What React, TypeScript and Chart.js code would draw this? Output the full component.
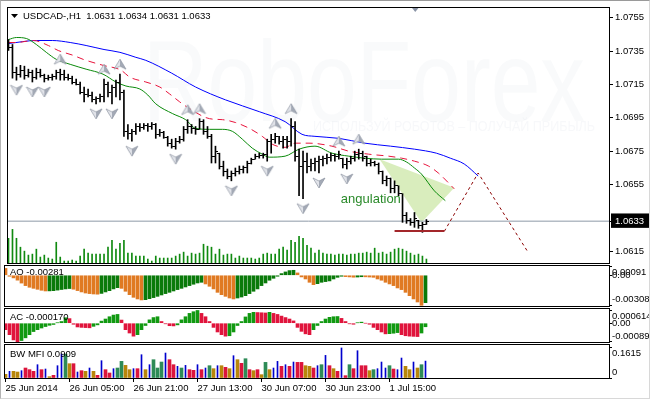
import React, { useEffect, useRef } from 'react';
import { Chart, registerables } from 'chart.js';

Chart.register(...registerables);

const FONT = "'Liberation Sans', Arial, sans-serif";
Chart.defaults.font.family = FONT;

// ---------------- data ----------------
const chartTitle = 'USDCAD-,H1  1.0631 1.0634 1.0631 1.0633';
const watermark = 'RoboForex';
const watermarkSub = 'ИСПОЛЬЗУЙ РОБОТОВ – ПОЛУЧАЙ ПРИБЫЛЬ';

const timeTickIdx = [0, 16, 32, 48, 64, 80, 96];
const timeLabels = ['25 Jun 2014', '26 Jun 05:00', '26 Jun 21:00', '27 Jun 13:00', '30 Jun 07:00', '30 Jun 23:00', '1 Jul 15:00'];

const priceTicks = [1.0615, 1.0655, 1.0675, 1.0695, 1.0715, 1.0735, 1.0755];
const currentPrice = 1.0633;

const opens = [
  1.07402, 1.07372, 1.07224, 1.07212, 1.07236, 1.07206, 1.07224, 1.07194, 1.07224, 1.07206,
  1.07188, 1.07194, 1.07200, 1.07224, 1.07212, 1.07194, 1.07188, 1.07165, 1.07153, 1.07105,
  1.07093, 1.07087, 1.07058, 1.07064, 1.07076, 1.07153, 1.07105, 1.07135, 1.07165, 1.07105,
  1.06869, 1.06857, 1.06869, 1.06898, 1.06893, 1.06904, 1.06898, 1.06910, 1.06851, 1.06863,
  1.06833, 1.06798, 1.06780, 1.06810, 1.06822, 1.06881, 1.06898, 1.06887, 1.06881, 1.06927,
  1.06869, 1.06839, 1.06720, 1.06738, 1.06661, 1.06631, 1.06601, 1.06619, 1.06631, 1.06643,
  1.06655, 1.06679, 1.06702, 1.06720, 1.06726, 1.06732, 1.06810, 1.06822, 1.06839, 1.06810,
  1.06822, 1.06810, 1.06898, 1.06720, 1.06661, 1.06690, 1.06661, 1.06679, 1.06690, 1.06702,
  1.06708, 1.06714, 1.06726, 1.06720, 1.06708, 1.06673, 1.06690, 1.06708, 1.06732, 1.06738,
  1.06720, 1.06679, 1.06685, 1.06673, 1.06631, 1.06572, 1.06584, 1.06524, 1.06542, 1.06495,
  1.06364, 1.06335, 1.06323, 1.06335, 1.06305, 1.06311,
];
const highs = [
  1.07420, 1.07390, 1.07254, 1.07265, 1.07260, 1.07242, 1.07236, 1.07248, 1.07242, 1.07212,
  1.07206, 1.07212, 1.07236, 1.07242, 1.07236, 1.07212, 1.07200, 1.07182, 1.07165, 1.07135,
  1.07123, 1.07105, 1.07076, 1.07093, 1.07182, 1.07165, 1.07147, 1.07176, 1.07212, 1.07117,
  1.06910, 1.06881, 1.06916, 1.06916, 1.06916, 1.06916, 1.06922, 1.06916, 1.06881, 1.06869,
  1.06839, 1.06822, 1.06827, 1.06839, 1.06898, 1.06939, 1.06910, 1.06898, 1.06945, 1.06939,
  1.06898, 1.06851, 1.06780, 1.06738, 1.06690, 1.06643, 1.06631, 1.06649, 1.06661, 1.06661,
  1.06690, 1.06708, 1.06732, 1.06738, 1.06738, 1.06822, 1.06851, 1.06857, 1.06839, 1.06839,
  1.06839, 1.06945, 1.06927, 1.06762, 1.06750, 1.06738, 1.06702, 1.06708, 1.06720, 1.06720,
  1.06732, 1.06738, 1.06732, 1.06750, 1.06708, 1.06708, 1.06720, 1.06750, 1.06762, 1.06750,
  1.06720, 1.06702, 1.06690, 1.06679, 1.06631, 1.06601, 1.06589, 1.06572, 1.06542, 1.06495,
  1.06382, 1.06346, 1.06382, 1.06335, 1.06323, 1.06340,
];
const lows = [
  1.07354, 1.07188, 1.07176, 1.07194, 1.07182, 1.07194, 1.07165, 1.07182, 1.07194, 1.07165,
  1.07176, 1.07176, 1.07182, 1.07176, 1.07176, 1.07176, 1.07153, 1.07147, 1.07093, 1.07046,
  1.07076, 1.07046, 1.07034, 1.07046, 1.07046, 1.07076, 1.07034, 1.07076, 1.07058, 1.06839,
  1.06822, 1.06810, 1.06851, 1.06869, 1.06881, 1.06869, 1.06881, 1.06827, 1.06839, 1.06827,
  1.06780, 1.06768, 1.06762, 1.06798, 1.06810, 1.06857, 1.06857, 1.06851, 1.06881, 1.06851,
  1.06827, 1.06679, 1.06679, 1.06643, 1.06601, 1.06584, 1.06572, 1.06601, 1.06613, 1.06619,
  1.06619, 1.06673, 1.06702, 1.06708, 1.06708, 1.06690, 1.06738, 1.06798, 1.06792, 1.06768,
  1.06768, 1.06780, 1.06690, 1.06483, 1.06465, 1.06619, 1.06631, 1.06631, 1.06619, 1.06661,
  1.06673, 1.06690, 1.06690, 1.06702, 1.06649, 1.06643, 1.06673, 1.06690, 1.06702, 1.06690,
  1.06661, 1.06661, 1.06661, 1.06613, 1.06554, 1.06542, 1.06500, 1.06500, 1.06483, 1.06323,
  1.06317, 1.06305, 1.06293, 1.06287, 1.06263, 1.06310,
];
const closes = [
  1.07372, 1.07224, 1.07212, 1.07236, 1.07206, 1.07224, 1.07194, 1.07224, 1.07206, 1.07188,
  1.07194, 1.07200, 1.07224, 1.07212, 1.07194, 1.07188, 1.07165, 1.07153, 1.07105, 1.07093,
  1.07087, 1.07058, 1.07064, 1.07076, 1.07153, 1.07105, 1.07135, 1.07165, 1.07105, 1.06869,
  1.06857, 1.06869, 1.06898, 1.06893, 1.06904, 1.06898, 1.06910, 1.06851, 1.06863, 1.06833,
  1.06798, 1.06780, 1.06810, 1.06822, 1.06881, 1.06898, 1.06887, 1.06881, 1.06927, 1.06869,
  1.06839, 1.06720, 1.06750, 1.06661, 1.06631, 1.06601, 1.06619, 1.06631, 1.06643, 1.06655,
  1.06679, 1.06702, 1.06720, 1.06726, 1.06732, 1.06810, 1.06822, 1.06839, 1.06810, 1.06822,
  1.06810, 1.06898, 1.06720, 1.06661, 1.06690, 1.06661, 1.06679, 1.06690, 1.06702, 1.06708,
  1.06714, 1.06726, 1.06720, 1.06732, 1.06673, 1.06690, 1.06708, 1.06732, 1.06738, 1.06708,
  1.06679, 1.06685, 1.06673, 1.06631, 1.06572, 1.06584, 1.06524, 1.06542, 1.06495, 1.06364,
  1.06335, 1.06323, 1.06346, 1.06305, 1.06311, 1.06330,
];
const volumes = [
  1000, 1360, 1000, 640, 480, 320, 360, 560, 240, 320,
  200, 160, 840, 240, 80, 80, 120, 80, 280, 560,
  400, 360, 360, 360, 360, 640, 920, 560, 800, 920,
  400, 400, 280, 280, 280, 160, 80, 280, 200, 200,
  200, 200, 280, 360, 440, 280, 400, 360, 400, 760,
  680, 640, 360, 560, 320, 360, 360, 200, 280, 200,
  200, 200, 160, 200, 360, 400, 360, 360, 560, 640,
  520, 920, 840, 1080, 1000, 720, 600, 400, 520, 400,
  360, 360, 320, 360, 360, 320, 360, 360, 400, 400,
  440, 400, 600, 400, 440, 360, 440, 560, 600, 560,
  480, 400, 320, 360, 280, 160,
];

// Alligator lines [bar index, price]
const jawPts = [
  [0, 1.07396], [7, 1.07414], [11, 1.07414], [15.5, 1.07402], [19.5, 1.07384], [24, 1.0736], [28, 1.07343],
  [32, 1.07313], [34.5, 1.07295], [41, 1.07218], [47, 1.07135], [54.5, 1.07058], [63, 1.06987], [69.5, 1.06927],
  [73.75, 1.06851], [77, 1.06839], [83, 1.06827], [89.5, 1.06798], [96, 1.0678], [102, 1.06762], [107.5, 1.06738],
  [111, 1.06708], [114.5, 1.06673], [118, 1.06601],
];
const teethPts = [
  [0, 1.07402], [2, 1.07402], [6.25, 1.07414], [10, 1.07384], [12.5, 1.07354], [16.25, 1.07325], [18.75, 1.07301],
  [23.75, 1.07265], [28.25, 1.07236], [30.5, 1.07194], [34.5, 1.07165], [38, 1.07135], [40.5, 1.07093], [43, 1.07046],
  [45.5, 1.07005], [50.5, 1.06945], [53.75, 1.06939], [57, 1.06922], [60.5, 1.06887], [63.75, 1.06839], [66.25, 1.06792],
  [69.5, 1.06773], [72, 1.06798], [75.5, 1.06798], [81.25, 1.0678], [85.5, 1.0675], [90.5, 1.06732], [95.5, 1.0672],
  [98.75, 1.06708], [102, 1.0669], [105.5, 1.06661], [108, 1.06619], [112, 1.06524],
];
const lipsPts = [
  [0, 1.0742], [2, 1.07432], [4.5, 1.07426], [7, 1.0739], [9.5, 1.07343], [12, 1.07301], [15.5, 1.07271],
  [19.5, 1.07242], [23.75, 1.07212], [27, 1.07165], [29.5, 1.07141], [33, 1.07123], [35, 1.07087], [37, 1.07034],
  [41.25, 1.06975], [44.5, 1.06939], [47, 1.06887], [50.5, 1.06881], [53.75, 1.06881], [56.25, 1.06869],
  [58.75, 1.06822], [61.25, 1.06768], [63.75, 1.06732], [65.5, 1.06714], [69.5, 1.0672], [73, 1.06762], [77, 1.0678],
  [81.25, 1.06738], [85.5, 1.0672], [89.5, 1.06708], [93.75, 1.06702], [98, 1.06702], [100, 1.06685], [102, 1.06649],
  [103.75, 1.06613], [107, 1.06512], [109.75, 1.06453],
];

const fractalUp = [13, 24, 28, 45, 48, 67, 71, 83, 88];
const fractalDown = [2, 6, 9, 22, 26, 31, 42, 56, 65, 74, 78, 85];

const angleShape = [[93.25, 1.06702], [112, 1.0653], [103.75, 1.06322], [93.25, 1.06702]];
const projectionPts = [[109.5, 1.06269], [118, 1.06619], [130.5, 1.06145]];
const supportPts = [[97, 1.06271], [109.5, 1.06271]];
const angleLabel = 'angulation';
const angleLabelPos = [83.5, 1.06459];
const shiftMarkIdx = 102.2;

const ao = [
  0.0007, -0.0001, -0.00027, -0.0005, -0.0008, -0.00106, -0.00123, -0.00134, -0.00144, -0.00154,
  -0.00161, -0.0016, -0.00158, -0.00152, -0.00146, -0.0014, -0.00136, -0.00143, -0.00157, -0.00171,
  -0.00182, -0.00188, -0.00192, -0.00194, -0.00186, -0.00171, -0.00158, -0.0014, -0.00127, -0.00134,
  -0.00164, -0.00199, -0.00226, -0.00243, -0.00253, -0.0025, -0.0024, -0.00229, -0.00216, -0.00202,
  -0.00188, -0.00175, -0.00161, -0.00147, -0.00134, -0.0012, -0.00106, -0.00092, -0.00079, -0.00072,
  -0.00089, -0.00113, -0.0014, -0.00175, -0.00199, -0.00216, -0.00233, -0.00243, -0.00233, -0.00223,
  -0.00209, -0.00188, -0.00164, -0.0014, -0.00106, -0.00079, -0.00051, -0.00031, -0.0001, 0.00017,
  0.00034, 0.00048, 0.00051, 0.00024, -0.00017, -0.00038, -0.00072, -0.00096, -0.00086, -0.00072,
  -0.00065, -0.00058, -0.00038, -0.00021, -0.0001, -0.00014, -0.00017, -0.0002, -0.00018, -0.00015,
  -0.00016, -0.00018, -0.00021, -0.00038, -0.00051, -0.00072, -0.00089, -0.00106, -0.0013, -0.00147,
  -0.00175, -0.00209, -0.00243, -0.00274, -0.00308, -0.00281,
];
const aoTickVals = [0.00091, 0, -0.00308];
const aoTickText = ['0.00091', '0.00', '-0.00308'];
const aoTitle = 'AO -0.00281';

const ac = [
  -0.00031, -0.00055, -0.0008, -0.00089, -0.00083, -0.0007, -0.00055, -0.0004, -0.00031, -0.00023,
  -0.00016, -0.0001, -0.00006, 0.00002, 0.00008, 0.00026, 0.00022, -0.00005, -0.00018, -0.0002,
  -0.00021, -0.00022, -0.00015, -0.00008, 0.0001, 0.0002, 0.00031, 0.00039, 0.00042, 0.00015,
  -0.00031, -0.00047, -0.00062, -0.00055, -0.00031, -0.00011, 0.00016, 0.00027, 0.00031, 0.00008,
  -0.00003, -0.00012, -0.00013, -0.00008, 0.00016, 0.00031, 0.00047, 0.00055, 0.00061, 0.00047,
  0.00031, 0.00008, -0.0002, -0.00042, -0.00055, -0.00062, -0.0006, -0.00042, -0.00011, 0.00008,
  0.0003, 0.00047, 0.00052, 0.00051, 0.0005, 0.00049, 0.00052, 0.00047, 0.00042, 0.00034,
  0.00027, 0.0002, 0.00011, -0.0002, -0.00039, -0.00051, -0.00055, -0.00031, -0.00011, 0.00008,
  0.0002, 0.00028, 0.00031, 0.00032, 0.00023, 0.00008, -0.00003, -0.00005, 0.00002, 0.00005,
  0.0, -0.00005, -0.0002, -0.00031, -0.00042, -0.00051, -0.0005, -0.00048, -0.00045, -0.00055,
  -0.0006, -0.00062, -0.00063, -0.00064, -0.00047, -0.00017,
];
const acTickVals = [0.000614, 0, -0.00089];
const acTickText = ['0.000614', '0.00', '-0.00089'];
const acTitle = 'AC -0.000170';

const mfi = [
  0.0197, 0.0358, 0.0358, 0.0322, 0.0394, 0.0537, 0.0448, 0.0358, 0.0716, 0.0448,
  0.0483, 0.0072, 0.0143, 0.0662, 0.1289, 0.1289, 0.077, 0.077, 0.0322, 0.0394,
  0.0358, 0.0537, 0.0358, 0.0143, 0.0931, 0.0448, 0.0269, 0.0501, 0.0537, 0.0895,
  0.068, 0.0448, 0.0501, 0.0501, 0.1253, 0.0448, 0.0716, 0.0985, 0.0537, 0.0859,
  0.1343, 0.0985, 0.0716, 0.0627, 0.0537, 0.068, 0.0448, 0.0412, 0.0716, 0.0448,
  0.0537, 0.0662, 0.0501, 0.0662, 0.0662, 0.0573, 0.0501, 0.12, 0.0985, 0.0788,
  0.1038, 0.0448, 0.0394, 0.0448, 0.0179, 0.0841, 0.0448, 0.0537, 0.0895, 0.0627,
  0.0716, 0.0627, 0.0859, 0.0841, 0.0841, 0.0662, 0.0627, 0.0537, 0.0662, 0.0716,
  0.1217, 0.0662, 0.0501, 0.0358, 0.1615, 0.0125, 0.0716, 0.0501, 0.1468, 0.0662,
  0.0662, 0.0394, 0.0448, 0.0501, 0.0859, 0.0537, 0.0662, 0.0483, 0.0448, 0.1074,
  0.0627, 0.0448, 0.0859, 0.0537, 0.0716, 0.0909,
];
// G = green, F = fade, K = fake, S = squat
const mfiZones = ('FKFFKSSSKS' + 'KFSKKGFSKS' + 'FKFSKSSKGG' + 'FFKSKFKGGG' + 'KSSKGKSSKS' +
  'KGFKFSFKFS' + 'GSFSFGFKKS' + 'KSKSSFFSKG' + 'KSFSKSGSKS' + 'SFGKKKGSKK' + 'FFKFGK').split('');
const mfiTickVals = [0.1615, 0];
const mfiTickText = ['0.1615', '0'];
const mfiTitle = 'BW MFI 0.0909';

// ---------------- layout constants ----------------
const W = 650;
const H = 399;
const X_MIN = -0.125;
const X_MAX = 150.875;
const AXIS_W = 41;
const FS = 9.5;

const ZONE_COLORS: Record<string, string> = { G: '#2e8b57', F: '#b8860b', K: '#0000cd', S: '#dc143c' };

const pts = (arr: number[][]) => arr.map(([x, y]) => ({ x, y }));

function xAxis(show: boolean) {
  return {
    type: 'linear',
    min: X_MIN,
    max: X_MAX,
    display: show,
    offset: false,
    afterBuildTicks: (s: any) => {
      s.ticks = timeTickIdx.map((v) => ({ value: v }));
    },
    afterFit: (s: any) => {
      s.height = show ? 21 : 0;
      s.paddingLeft = 0;
      s.paddingRight = 0;
    },
    ticks: {
      autoSkip: false,
      maxRotation: 0,
      minRotation: 0,
      align: 'start',
      padding: 1,
      color: '#000',
      font: { family: FONT, size: FS },
      callback: (v: number) => {
        const k = timeTickIdx.indexOf(v);
        return k >= 0 ? timeLabels[k] : '';
      },
    },
    grid: { display: show, drawOnChartArea: false, drawTicks: true, tickLength: 4, color: '#000', offset: false },
    border: { display: false },
  };
}

function subY(min: number, max: number, vals: number[], texts: string[]) {
  return {
    type: 'linear',
    position: 'right',
    min,
    max,
    afterBuildTicks: (s: any) => {
      s.ticks = vals.map((v) => ({ value: v }));
    },
    afterFit: (s: any) => {
      s.width = AXIS_W;
      s.paddingTop = 0;
      s.paddingBottom = 0;
    },
    ticks: {
      autoSkip: false,
      padding: 0,
      color: '#000',
      font: { family: FONT, size: FS },
      callback: (_v: number, i: number) =>
        i === 0 ? ['', texts[0]] : i === vals.length - 1 ? [texts[i], ''] : texts[i],
    },
    grid: { drawOnChartArea: false, drawTicks: true, tickLength: 3, color: '#000' },
    border: { display: false },
  };
}

const framePlugin = {
  id: 'frame',
  afterDraw(chart: any) {
    const { ctx, chartArea: a } = chart;
    ctx.save();
    ctx.strokeStyle = '#000';
    ctx.lineWidth = 1;
    ctx.strokeRect(a.left - 0.5, a.top - 0.5, a.right - a.left + 1, a.bottom - a.top + 1);
    ctx.restore();
  },
};

function panelLabel(text: string, dy: number) {
  return {
    id: 'panelLabel',
    afterDatasetsDraw(chart: any) {
      const { ctx, chartArea: a } = chart;
      ctx.save();
      ctx.font = `${FS}px ${FONT}`;
      ctx.fillStyle = '#000';
      ctx.textBaseline = 'middle';
      ctx.fillText(text, a.left + 5, a.top + dy);
      ctx.restore();
    },
  };
}

function baseOptions(padding: any) {
  return {
    responsive: false,
    animation: false,
    devicePixelRatio: 1,
    events: [],
    layout: { padding },
    plugins: { legend: { display: false }, tooltip: { enabled: false } },
  };
}

function tickImage(left: boolean) {
  const c = document.createElement('canvas');
  c.width = 5;
  c.height = 1;
  const g = c.getContext('2d')!;
  g.fillStyle = '#000';
  g.fillRect(left ? 0 : 3, 0, 2, 1);
  return c;
}

function arrowImage(up: boolean) {
  const c = document.createElement('canvas');
  c.width = 14;
  c.height = 40;
  const g = c.getContext('2d')!;
  const cy = up ? 10 : 30;
  const s = up ? 1 : -1;
  g.beginPath();
  g.moveTo(7, cy - 5 * s);
  g.lineTo(13, cy + 5 * s);
  g.lineTo(7, cy + 2 * s);
  g.lineTo(1, cy + 5 * s);
  g.closePath();
  g.fillStyle = '#e2e4ea';
  g.fill();
  g.beginPath();
  g.moveTo(7, cy - 5 * s);
  g.lineTo(13, cy + 5 * s);
  g.lineTo(7, cy + 2 * s);
  g.closePath();
  g.fillStyle = '#a4aab6';
  g.fill();
  g.beginPath();
  g.moveTo(7, cy - 5 * s);
  g.lineTo(13, cy + 5 * s);
  g.lineTo(7, cy + 2 * s);
  g.lineTo(1, cy + 5 * s);
  g.closePath();
  g.strokeStyle = '#8d93a0';
  g.lineWidth = 0.7;
  g.stroke();
  return c;
}

export default function App() {
  const mainRef = useRef<HTMLCanvasElement>(null);
  const aoRef = useRef<HTMLCanvasElement>(null);
  const acRef = useRef<HTMLCanvasElement>(null);
  const mfiRef = useRef<HTMLCanvasElement>(null);

  useEffect(() => {
    const charts: any[] = [];
    const openImg = tickImage(true);
    const closeImg = tickImage(false);
    const upImg = arrowImage(true);
    const downImg = arrowImage(false);

    const isCur = (c: any) => c && c.tick && c.tick.value === currentPrice;

    const mainDecor = {
      id: 'mainDecor',
      beforeDatasetsDraw(chart: any) {
        const { ctx, chartArea: a } = chart;
        ctx.save();
        ctx.fillStyle = 'rgba(190,198,214,0.09)';
        ctx.font = `115px ${FONT}`;
        ctx.textBaseline = 'alphabetic';
        const w = ctx.measureText(watermark).width;
        ctx.translate(a.left + 135, a.top + 113);
        ctx.scale(442 / w, 1);
        ctx.fillText(watermark, 0, 0);
        ctx.restore();
        ctx.save();
        ctx.fillStyle = 'rgba(190,198,214,0.13)';
        ctx.font = `14px ${FONT}`;
        const w2 = ctx.measureText(watermarkSub).width;
        ctx.translate(a.left + 305, a.top + 123);
        ctx.scale(282 / w2, 1);
        ctx.fillText(watermarkSub, 0, 0);
        ctx.restore();
      },
      afterDatasetsDraw(chart: any) {
        const { ctx, chartArea: a, scales } = chart;
        ctx.save();
        ctx.font = `13px ${FONT}`;
        ctx.fillStyle = '#2a8a2a';
        ctx.textBaseline = 'middle';
        ctx.fillText(angleLabel, scales.x.getPixelForValue(angleLabelPos[0]), scales.y.getPixelForValue(angleLabelPos[1]));
        ctx.fillStyle = '#000';
        ctx.font = `${FS}px ${FONT}`;
        ctx.fillText(chartTitle, a.left + 15, a.top + 8);
        ctx.beginPath();
        ctx.moveTo(a.left + 3, a.top + 6);
        ctx.lineTo(a.left + 10, a.top + 6);
        ctx.lineTo(a.left + 6.5, a.top + 10);
        ctx.closePath();
        ctx.fill();
        const px = scales.x.getPixelForValue(shiftMarkIdx);
        ctx.fillStyle = '#8a94a6';
        ctx.beginPath();
        ctx.moveTo(px - 4, a.top - 1);
        ctx.lineTo(px + 4, a.top - 1);
        ctx.lineTo(px, a.top + 4);
        ctx.closePath();
        ctx.fill();
        ctx.restore();
      },
    };

    if (mainRef.current) {
      charts.push(
        new Chart(mainRef.current, {
          type: 'bar',
          data: {
            datasets: [
              {
                type: 'line',
                data: pts(angleShape),
                fill: 'shape',
                backgroundColor: 'rgba(208,233,172,0.8)',
                borderWidth: 0,
                pointRadius: 0,
                order: 20,
              },
              {
                type: 'bar',
                yAxisID: 'yv',
                data: volumes.map((v, i) => ({ x: i, y: v })),
                backgroundColor: '#108a10',
                barThickness: 1,
                grouped: false,
                order: 19,
              },
              {
                type: 'line',
                data: [{ x: X_MIN, y: currentPrice }, { x: X_MAX, y: currentPrice }],
                borderColor: '#8e99a8',
                borderWidth: 1,
                pointRadius: 0,
                order: 18,
              },
              {
                type: 'line',
                data: pts(jawPts),
                borderColor: '#0000ff',
                borderWidth: 1,
                pointRadius: 0,
                cubicInterpolationMode: 'monotone',
                order: 15,
              },
              {
                type: 'line',
                data: pts(teethPts),
                borderColor: '#e8143c',
                borderWidth: 1,
                borderDash: [7, 5],
                pointRadius: 0,
                cubicInterpolationMode: 'monotone',
                order: 14,
              },
              {
                type: 'line',
                data: pts(lipsPts),
                borderColor: '#0a8a0a',
                borderWidth: 1,
                pointRadius: 0,
                cubicInterpolationMode: 'monotone',
                order: 13,
              },
              {
                type: 'bar',
                data: highs.map((h, i) => ({ x: i, y: [lows[i], h] })),
                backgroundColor: '#000',
                barThickness: 1,
                grouped: false,
                order: 6,
              },
              {
                type: 'line',
                showLine: false,
                data: opens.map((o, i) => ({ x: i, y: o })),
                pointStyle: openImg,
                pointRadius: 3,
                order: 5,
              },
              {
                type: 'line',
                showLine: false,
                data: closes.map((c, i) => ({ x: i, y: c })),
                pointStyle: closeImg,
                pointRadius: 3,
                order: 5,
              },
              {
                type: 'line',
                showLine: false,
                data: fractalUp.map((i) => ({ x: i, y: highs[i] })),
                pointStyle: upImg,
                pointRadius: 7,
                order: 3,
                clip: false,
              },
              {
                type: 'line',
                showLine: false,
                data: fractalDown.map((i) => ({ x: i, y: lows[i] })),
                pointStyle: downImg,
                pointRadius: 7,
                order: 3,
              },
              {
                type: 'line',
                data: pts(projectionPts),
                borderColor: '#8b0000',
                borderWidth: 1,
                borderDash: [3, 3],
                pointRadius: 0,
                order: 2,
              },
              {
                type: 'line',
                data: pts(supportPts),
                borderColor: '#a3262a',
                borderWidth: 2,
                pointRadius: 0,
                order: 1,
              },
            ],
          },
          options: {
            ...baseOptions({ left: 5, top: 5, right: 0, bottom: H - 263 }),
            scales: {
              x: xAxis(false),
              y: {
                type: 'linear',
                position: 'right',
                min: 1.06079,
                max: 1.07609,
                afterBuildTicks: (s: any) => {
                  s.ticks = priceTicks.concat([currentPrice]).map((v) => ({ value: v }));
                },
                afterFit: (s: any) => {
                  s.width = AXIS_W;
                  s.paddingTop = 0;
                  s.paddingBottom = 0;
                },
                ticks: {
                  autoSkip: false,
                  padding: 2,
                  font: { family: FONT, size: FS },
                  color: (c: any) => (isCur(c) ? '#fff' : '#000'),
                  showLabelBackdrop: (c: any) => isCur(c),
                  backdropColor: '#000',
                  backdropPadding: { top: 2, bottom: 1, left: 4, right: 6 },
                  callback: (v: number) => Number(v).toFixed(4),
                },
                grid: { drawOnChartArea: false, drawTicks: true, tickLength: 4, color: '#000' },
                border: { display: false },
              },
              yv: { type: 'linear', display: false, min: 0, max: 10320 },
            },
          } as any,
          plugins: [mainDecor, framePlugin],
        } as any)
      );
    }

    if (aoRef.current) {
      charts.push(
        new Chart(aoRef.current, {
          type: 'bar',
          data: {
            datasets: [
              {
                data: ao.map((v, i) => ({ x: i, y: v })),
                backgroundColor: ao.map((v, i) => (i > 0 && v >= ao[i - 1] ? '#0a7a0a' : '#e07a22')),
                barThickness: 3,
                grouped: false,
              },
            ],
          },
          options: {
            ...baseOptions({ left: 5, top: 266, right: 0, bottom: H - 306 }),
            scales: { x: xAxis(false), y: subY(-0.00315, 0.00095, aoTickVals, aoTickText) },
          } as any,
          plugins: [panelLabel(aoTitle, 6), framePlugin],
        } as any)
      );
    }

    if (acRef.current) {
      charts.push(
        new Chart(acRef.current, {
          type: 'bar',
          data: {
            datasets: [
              {
                data: ac.map((v, i) => ({ x: i, y: v })),
                backgroundColor: ac.map((v, i) => (i > 0 && v >= ac[i - 1] ? '#119911' : '#e0143c')),
                barThickness: 3,
                grouped: false,
              },
            ],
          },
          options: {
            ...baseOptions({ left: 5, top: 309, right: 0, bottom: H - 342 }),
            scales: { x: xAxis(false), y: subY(-0.0009, 0.00068, acTickVals, acTickText) },
          } as any,
          plugins: [panelLabel(acTitle, 8), framePlugin],
        } as any)
      );
    }

    if (mfiRef.current) {
      charts.push(
        new Chart(mfiRef.current, {
          type: 'bar',
          data: {
            datasets: [
              {
                data: mfi.map((v, i) => ({ x: i, y: mfiZones[i] === 'K' ? null : v })),
                backgroundColor: mfiZones.map((z) => ZONE_COLORS[z]),
                barThickness: 3,
                grouped: false,
              },
              {
                data: mfi.map((v, i) => ({ x: i, y: mfiZones[i] === 'K' ? v : null })),
                backgroundColor: ZONE_COLORS.K,
                barThickness: 1,
                grouped: false,
              },
            ],
          },
          options: {
            ...baseOptions({ left: 5, top: 345, right: 0, bottom: 0 }),
            scales: { x: xAxis(true), y: subY(0, 0.1775, mfiTickVals, mfiTickText) },
          } as any,
          plugins: [panelLabel(mfiTitle, 9), framePlugin],
        } as any)
      );
    }

    return () => {
      charts.forEach((c) => c.destroy());
    };
  }, []);

  const cv: React.CSSProperties = { position: 'absolute', left: 0, top: 0 };
  return (
    <div style={{ position: 'absolute', left: 0, top: 0, width: W, height: H, background: '#fff', overflow: 'hidden' }}>
      <canvas ref={mainRef} width={W} height={H} style={cv} />
      <canvas ref={aoRef} width={W} height={H} style={cv} />
      <canvas ref={acRef} width={W} height={H} style={cv} />
      <canvas ref={mfiRef} width={W} height={H} style={cv} />
      <div
        style={{
          position: 'absolute',
          left: 0,
          top: 0,
          width: W,
          height: H,
          boxSizing: 'border-box',
          borderTop: '1px solid #9a9a9a',
          borderLeft: '1px solid #b4b4b4',
          borderRight: '1px solid #d8d8d8',
          borderBottom: '1px solid #d8d8d8',
          pointerEvents: 'none',
        }}
      />
    </div>
  );
}
